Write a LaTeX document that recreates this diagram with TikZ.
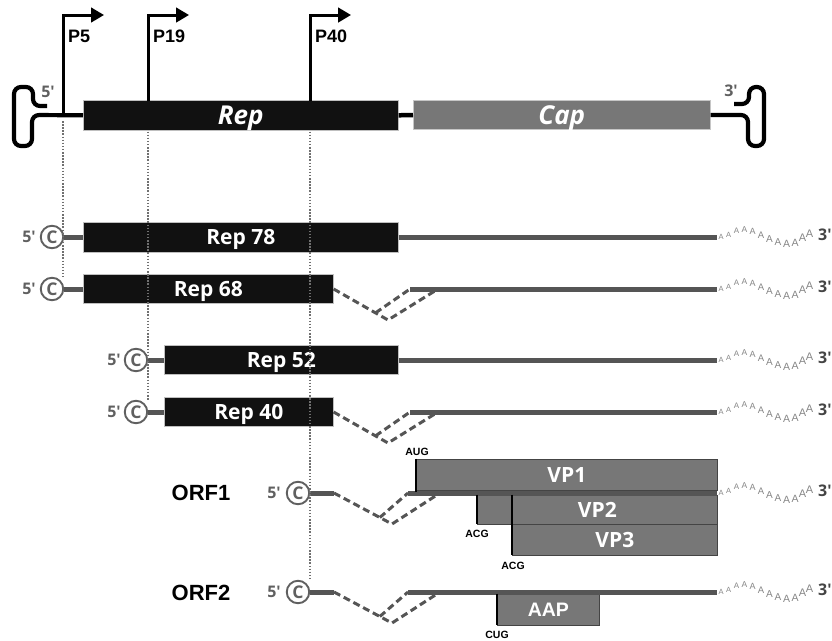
\documentclass[tikz,border=0pt]{standalone}
\usepackage{fontspec}
\setmainfont{Open Sans}
\newfontfamily\osplain{Open Sans}
\newfontfamily\arialf{Liberation Sans}
\usetikzlibrary{arrows.meta,calc}
\definecolor{dkc}{HTML}{111111}
\definecolor{capgrey}{HTML}{777777}
\definecolor{lnc}{HTML}{555555}
\definecolor{txg}{HTML}{606060}
\definecolor{dotg}{HTML}{707070}
\definecolor{polyacol}{HTML}{858585}
\definecolor{threec}{HTML}{444444}
\tikzset{
  gbox/.style={rectangle, inner sep=0pt, anchor=west, text=white, text depth=0pt,
    font=\bfseries\fontsize{21}{21}\selectfont},
  repbox/.style={gbox, fill=dkc, draw=gray!50, line width=0.6pt},
  capbox/.style={gbox, fill=capgrey, draw=gray!45, line width=0.6pt},
  vpbox/.style={gbox, fill=capgrey, draw=threec, line width=0.8pt},
  backbone/.style={line width=4.5pt, black},
  itr/.style={line width=4.2pt, black, rounded corners=7pt, line join=round},
  prom/.style={line width=3pt, black, -{Triangle[length=13pt,width=14.5pt]}},
  plab/.style={font=\arialf\bfseries\fontsize{18}{18}\selectfont, anchor=west, inner sep=0pt},
  tx/.style={line width=5pt, lnc},
  splicel/.style={line width=3pt, lnc, dash pattern=on 7pt off 4pt},
  guide/.style={line width=1.6pt, dotg, dash pattern=on 1.5pt off 1.6pt},
  capc/.style={circle, draw=txg, line width=1.9pt, minimum size=22.5pt, inner sep=0pt,
    text=txg, text depth=0pt, font=\bfseries\fontsize{17.5}{17.5}\selectfont},
  fivep/.style={text=txg, inner sep=0pt, text depth=0pt, font=\osplain\bfseries\fontsize{16}{16}\selectfont},
  threep/.style={text=threec, anchor=west, inner sep=0pt, text depth=0pt, font=\osplain\bfseries\fontsize{16}{16}\selectfont},
  codon/.style={inner sep=0pt, font=\arialf\bfseries\fontsize{10.5}{10.5}\selectfont},
  startm/.style={line width=2.6pt, black},
  orflab/.style={inner sep=0pt, font=\arialf\bfseries\fontsize{22}{22}\selectfont},
  polyastyle/.style={inner sep=0pt, text=polyacol},
}
\newcommand\mypolya[1]{%
  \foreach \dx/\dy/\s [count=\i] in {4/0/7.5, 11.5/-2/7.5, 19.5/-6/8, 27.5/-7.5/8.5, 35.5/-6/9, 44/-2/9.5, 52.5/2/10, 61/5.5/10, 69.5/6.5/10.5, 78/5.5/10.5, 85.5/1/11, 92.5/-3/11}{%
    \node[polyastyle, font=\arialf\fontsize{\s}{\s}\selectfont] (#1A\i) at ($(#1)+(\dx,\dy)$) {A};}%
  \node[threep] (#1T) at ($(#1)+(101,-2)$) {3'};%
}
\begin{document}
\begin{tikzpicture}[x=1pt,y=-1pt]
\useasboundingbox (0,0) rectangle (832,640);

% ---------------- genome ----------------
\node[repbox, minimum width=315pt, minimum height=29.5pt,
  font=\bfseries\itshape\fontsize{26}{26}\selectfont] (rep) at (83,115.3) {Rep};
\node[capbox, minimum width=297pt, minimum height=29.5pt,
  font=\bfseries\itshape\fontsize{26}{26}\selectfont] (cap) at (413,115) {Cap};
\draw[itr] (47,106) -- (33,106) -- (33,87) -- (14,87) -- (14,146) -- (32,146) -- (32,115) -- (rep.west);
\draw[backbone] (rep.east) -- (cap.west);
\draw[itr] (cap.east) -- (748,115) -- (748,146) -- (764,146) -- (764,87) -- (749,87) -- (749,104) -- (734,104);
\node[fivep] (g5) at (48,92) {5'};
\node[fivep] (g3) at (731,91) {3'};

% promoters
\coordinate (p5) at (63,115);
\coordinate (p19) at (148,100.5);
\coordinate (p40) at (310,100.5);
\coordinate (p5t) at (104,15);
\coordinate (p19t) at (189,15);
\coordinate (p40t) at (351,15);
\draw[prom] (p5) |- (p5t);
\draw[prom] (p19) |- (p19t);
\draw[prom] (p40) |- (p40t);
\node[plab] (lp5) at (68,36) {P5};
\node[plab] (lp19) at (153,36) {P19};
\node[plab] (lp40) at (315,36) {P40};

% ---------------- Rep 78 ----------------
\node[fivep] (f78) at (29,237) {5'};
\node[capc] (c78) at (52,237) {C};
\node[repbox, minimum width=315pt, minimum height=30pt] (r78) at (83,237) {Rep 78};
\coordinate (e78) at (717,237);
\draw[tx] (c78.east) -- (r78.west);
\draw[tx] (r78.east) -- (e78);
\mypolya{e78}

% ---------------- Rep 68 ----------------
\node[fivep] (f68) at (29,289) {5'};
\node[capc] (c68) at (52,289) {C};
\node[repbox, minimum width=250pt, minimum height=29pt] (r68) at (83,289) {Rep 68};
\coordinate (l68) at (388,320);
\coordinate (u68) at ($(r68.east)!0.77!(l68)$);
\coordinate (a68) at (410,289);
\coordinate (b68) at (438,289);
\coordinate (e68) at (717,289);
\draw[tx] (c68.east) -- (r68.west);
\draw[splicel] (r68.east) -- (l68) -- (b68);
\draw[splicel] (u68) -- (a68);
\draw[tx] (a68) -- (e68);
\mypolya{e68}

% ---------------- Rep 52 ----------------
\node[fivep] (f52) at (114,360) {5'};
\node[capc] (c52) at (136,360) {C};
\node[repbox, minimum width=234pt, minimum height=28.5pt] (r52) at (164,360) {Rep 52};
\coordinate (e52) at (717,360);
\draw[tx] (c52.east) -- (r52.west);
\draw[tx] (r52.east) -- (e52);
\mypolya{e52}

% ---------------- Rep 40 ----------------
\node[fivep] (f40) at (114,412) {5'};
\node[capc] (c40) at (136,412) {C};
\node[repbox, minimum width=169pt, minimum height=29pt] (r40) at (164,412) {Rep 40};
\coordinate (l40) at (388,443);
\coordinate (u40) at ($(r40.east)!0.77!(l40)$);
\coordinate (a40) at (410,412);
\coordinate (b40) at (438,412);
\coordinate (e40) at (717,412);
\draw[tx] (c40.east) -- (r40.west);
\draw[splicel] (r40.east) -- (l40) -- (b40);
\draw[splicel] (u40) -- (a40);
\draw[tx] (a40) -- (e40);
\mypolya{e40}

% ---------------- ORF1 ----------------
\node[orflab] (orf1) at (201,493) {ORF1};
\node[fivep] (fo1) at (274,493) {5'};
\node[capc] (co1) at (298,493) {C};
\coordinate (d1) at (334,493);
\coordinate (l1) at (392,524);
\coordinate (u1) at ($(d1)!0.79!(l1)$);
\coordinate (a1) at (408,493);
\coordinate (b1) at (440,493);
\coordinate (e1) at (717,493);
\node[vpbox, minimum width=301pt, minimum height=31pt] (vp1) at (416,474.5) {VP1};
\node[vpbox, minimum width=240pt, minimum height=29pt] (vp2) at (477,509.5) {VP2};
\node[vpbox, minimum width=205pt, minimum height=31pt] (vp3) at (512,539.5) {VP3};
\draw[tx] (co1.east) -- (d1);
\draw[splicel] (d1) -- (l1) -- (b1);
\draw[splicel] (u1) -- (a1);
\draw[tx] (a1) -- (e1);
\draw[startm] (vp1.north west) -- ($(vp1.south west)+(0,1.5)$);
\draw[startm] (vp2.north west) -- (vp2.south west);
\draw[startm] (vp3.west |- vp2.north) -- (vp3.south west);
\node[codon] (aug) at (417,452) {AUG};
\node[codon] (acg1) at (477,534) {ACG};
\node[codon] (acg2) at (513,566) {ACG};
\mypolya{e1}

% ---------------- ORF2 ----------------
\node[orflab] (orf2) at (201,593) {ORF2};
\node[fivep] (fo2) at (274,592) {5'};
\node[capc] (co2) at (298,592) {C};
\coordinate (d2) at (334,592);
\coordinate (l2) at (392,623);
\coordinate (u2) at ($(d2)!0.79!(l2)$);
\coordinate (a2) at (408,592);
\coordinate (b2) at (440,592);
\coordinate (e2) at (717,592);
\node[vpbox, minimum width=102pt, minimum height=31pt,
  font=\arialf\bfseries\fontsize{19.5}{19.5}\selectfont] (aap) at (497,609.5) {AAP};
\draw[tx] (co2.east) -- (d2);
\draw[splicel] (d2) -- (l2) -- (b2);
\draw[splicel] (u2) -- (a2);
\draw[tx] (a2) -- (e2);
\draw[startm] (aap.north west) -- (aap.south west);
\node[codon] (cug) at (497,635) {CUG};
\mypolya{e2}

% ---------------- guide lines ----------------
\draw[guide] ($(p5)+(0,6)$) -- (c68.north -| p5);
\draw[guide] ($(p19)+(0,31)$) -- (c40.north -| p19);
\draw[guide] ($(p40)+(0,31)$) -- (co2.north -| p40);
\end{tikzpicture}
\end{document}
